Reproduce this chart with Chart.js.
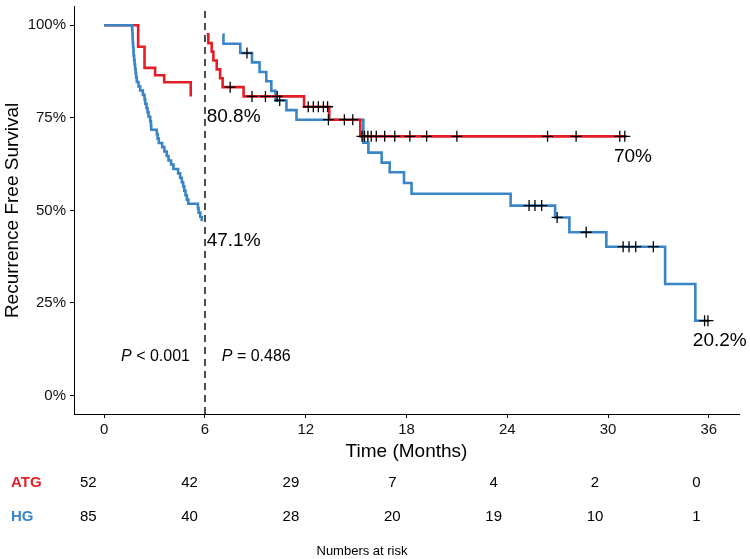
<!DOCTYPE html>
<html><head><meta charset="utf-8">
<script src="https://cdn.jsdelivr.net/npm/chart.js@4.4.1/dist/chart.umd.min.js"></script>
<style>html,body{margin:0;padding:0;background:#fff;}#wrap{width:750px;height:559px;}</style>
</head><body><div id="wrap"><canvas id="c" width="750" height="559"></canvas></div>
<script>
const FONT = '"Liberation Sans", Arial, Helvetica, sans-serif';
const RED = '#E41E26', BLUE = '#3A85C6';

// ---- data ----
const xTicks = [0, 6, 12, 18, 24, 30, 36];
const yTicks = [0, 25, 50, 75, 100];
const landmark = 6;

const atgLeftT = [0, 2.02, 2.4, 3.03, 3.57, 5.15];
const atgLeftS = [100, 94.2, 88.5, 86.5, 84.6, 80.8];

const hgLeftT = [0, 1.66, 1.68, 1.69, 1.70, 1.72, 1.74, 1.75, 1.78, 1.81, 1.84, 1.87, 1.90, 1.94, 2.04, 2.14, 2.30, 2.40, 2.44, 2.52, 2.58, 2.64, 2.74, 2.78, 2.80, 3.13, 3.18, 3.25, 3.45, 3.58, 3.72, 3.83, 3.98, 4.12, 4.40, 4.52, 4.62, 4.70, 4.77, 4.84, 4.92, 5.01, 5.58, 5.62, 5.72, 5.81];
const hgLeftS = [100, 98.8, 97.6, 96.5, 95.3, 94.1, 92.9, 91.8, 90.6, 89.4, 88.2, 87.1, 85.9, 84.7, 83.5, 82.4, 81.2, 80.0, 78.8, 77.6, 76.5, 75.3, 74.1, 72.9, 71.8, 70.6, 69.4, 68.2, 67.1, 65.9, 64.7, 63.5, 62.4, 61.2, 60.0, 58.8, 57.6, 56.5, 55.3, 54.1, 52.9, 51.8, 50.6, 49.4, 48.2, 47.1];

const atgRightT = [6.1, 6.2, 6.4, 6.5, 6.7, 6.9, 7.05, 8.3, 11.9, 13.4, 15.25, 31.1];
const atgRightS = [97.6, 95.2, 92.9, 90.5, 88.1, 85.7, 83.3, 80.8, 78.0, 74.5, 70.0, 70.0];

const hgRightT = [7.05, 7.1, 8.1, 8.8, 9.25, 9.65, 9.95, 10.2, 10.85, 11.45, 15.43, 15.73, 16.52, 17.0, 17.85, 18.3, 24.2, 26.85, 27.7, 29.9, 33.4, 35.2, 36.0];
const hgRightS = [97.5, 95.0, 92.5, 90.0, 87.4, 84.9, 82.3, 79.7, 77.1, 74.5, 68.3, 65.6, 62.9, 60.3, 57.4, 54.5, 51.3, 48.1, 44.1, 40.2, 30.1, 20.2, 20.2];

const atgCensorT = [7.5, 8.8, 9.6, 10.3, 12.15, 12.45, 12.75, 13.05, 13.3, 14.3, 14.8, 15.35, 15.5, 15.7, 15.9, 16.2, 16.7, 17.3, 18.2, 19.2, 21.0, 26.4, 28.1, 30.7, 31.0];
const hgCensorT = [8.5, 10.45, 13.35, 25.3, 25.65, 26.05, 26.97, 28.7, 30.9, 31.25, 31.65, 32.7, 35.75, 35.95];

const groups = ['ATG', 'HG'];
const riskTimes = [0, 6, 12, 18, 24, 30, 36];
const atgRisk = [52, 42, 29, 7, 4, 2, 0];
const hgRisk = [85, 40, 28, 20, 19, 10, 1];

const endLabels = ['80.8%', '47.1%', '70%', '20.2%'];
const endLabelT = [6.1, 6.1, 30.35, 35.05];
const endLabelS = [80.8, 47.1, 70, 20.2];

const pTexts = ['< 0.001', '= 0.486'];
const pTimes = [1, 7];
const pLevel = 10.6;

// ---- helpers ----
const pts = (T, S) => T.map((t, i) => ({x: t, y: S[i]}));
function survAt(T, S, t) { let v = S[0]; for (let i = 0; i < T.length; i++) { if (T[i] <= t) v = S[i]; } return v; }
const censorPts = (C, T, S) => C.map(t => ({x: t, y: survAt(T, S, t)}));

const stepLine = (data, color, order) => ({
  data, borderColor: color, backgroundColor: color, borderWidth: 2.6,
  stepped: 'before', pointRadius: 0, fill: false, order
});
const censorSet = (data) => ({
  data, showLine: false, pointStyle: 'cross', pointRadius: 5.5,
  pointBorderColor: '#000', pointBackgroundColor: '#000', pointBorderWidth: 1.3, order: 0
});

const overlay = {
  id: 'overlay',
  afterDraw(chart) {
    const {ctx, scales: {x, y}} = chart;
    ctx.save();
    ctx.fillStyle = '#000';
    // end labels
    ctx.font = `19px ${FONT}`;
    ctx.textAlign = 'left';
    ctx.textBaseline = 'middle';
    endLabels.forEach((s, i) => {
      ctx.fillText(s, x.getPixelForValue(endLabelT[i]), y.getPixelForValue(endLabelS[i]) + 20);
    });
    // p values
    pTexts.forEach((s, i) => {
      let px = x.getPixelForValue(pTimes[i]);
      const py = y.getPixelForValue(pLevel);
      ctx.font = `italic 16px ${FONT}`;
      ctx.fillText('P', px, py);
      px += ctx.measureText('P ').width;
      ctx.font = `16px ${FONT}`;
      ctx.fillText(s, px, py);
    });
    // risk table
    const rows = [atgRisk, hgRisk];
    const rowColors = [RED, BLUE];
    const rowY = [483, 517];
    const tx = t => x.getPixelForValue(t) - 16 + t * 0.1;
    rows.forEach((r, k) => {
      ctx.font = `bold 15px ${FONT}`;
      ctx.fillStyle = rowColors[k];
      ctx.textAlign = 'left';
      ctx.fillText(groups[k], 11, rowY[k]);
      ctx.font = `15px ${FONT}`;
      ctx.fillStyle = '#000';
      ctx.textAlign = 'center';
      r.forEach((n, i) => ctx.fillText(String(n), tx(riskTimes[i]), rowY[k]));
    });
    ctx.font = `13px ${FONT}`;
    ctx.textAlign = 'center';
    ctx.fillText('Numbers at risk', 362, 551);
    ctx.restore();
  }
};

new Chart(document.getElementById('c'), {
  type: 'line',
  data: {
    datasets: [
      stepLine(pts(hgLeftT, hgLeftS), BLUE, 1),
      stepLine(pts(atgLeftT, atgLeftS), RED, 2),
      stepLine(pts(atgRightT, atgRightS), RED, 1),
      stepLine(pts(hgRightT, hgRightS), BLUE, 2),
      censorSet(censorPts(atgCensorT, atgRightT, atgRightS)),
      censorSet(censorPts(hgCensorT, hgRightT, hgRightS)),
      {data: [{x: landmark, y: -5}, {x: landmark, y: 105}], borderColor: '#000', borderWidth: 1.4,
       borderDash: [7, 5], pointRadius: 0, order: 3}
    ]
  },
  options: {
    responsive: false, animation: false, devicePixelRatio: 1,
    layout: {padding: {left: 0, right: 11, top: 0, bottom: 0}},
    plugins: {legend: {display: false}, tooltip: {enabled: false}},
    elements: {line: {tension: 0}},
    scales: {
      x: {
        type: 'linear', min: -1.8, max: 37.8,
        afterBuildTicks: s => { s.ticks = xTicks.map(v => ({value: v})); },
        afterFit: s => { s.height = 145; s.paddingLeft = 0; s.paddingRight = 0; },
        ticks: {color: '#111', font: {family: FONT, size: 15}, padding: 3, maxRotation: 0, autoSkip: false},
        grid: {display: true, drawOnChartArea: false, drawTicks: true, tickLength: 4, color: '#000', lineWidth: 1},
        border: {display: true, color: '#000', width: 1},
        title: {display: true, text: 'Time (Months)', color: '#000', font: {family: FONT, size: 19}, padding: {top: 0, bottom: 95.6}}
      },
      y: {
        min: -5, max: 105,
        afterBuildTicks: s => { s.ticks = yTicks.map(v => ({value: v})); },
        afterFit: s => { s.width = 74; s.paddingTop = 0; s.paddingBottom = 0; },
        ticks: {color: '#111', font: {family: FONT, size: 15}, padding: 4, callback: v => v + '%'},
        grid: {display: true, drawOnChartArea: false, drawTicks: true, tickLength: 4, color: '#000', lineWidth: 1},
        border: {display: true, color: '#000', width: 1},
        title: {display: true, text: 'Recurrence Free Survival', color: '#000', font: {family: FONT, size: 19}, padding: {top: 1, bottom: 0}}
      }
    }
  },
  plugins: [overlay]
});
</script>
</body></html>
